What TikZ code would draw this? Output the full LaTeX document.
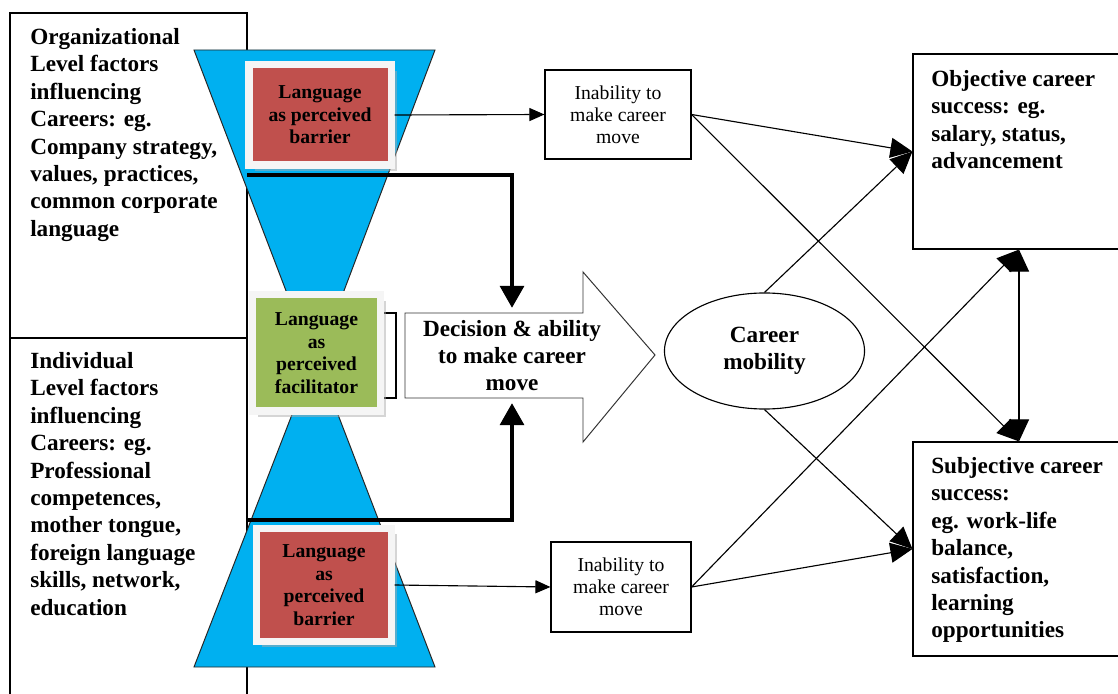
\documentclass[tikz,border=0pt]{standalone}
\usepackage{fontspec}
\setmainfont{Liberation Serif}
\usetikzlibrary{arrows.meta}
\usetikzlibrary{shapes,positioning}
\usetikzlibrary{shadows}
\colorlet{background}{white}
\definecolor{funnelColor}{RGB}{0,176,240}
\definecolor{barrierColor}{RGB}{192,80,77}
\definecolor{facilColor}{RGB}{155,187,89}
\colorlet{frameColor}{gray!8}
\tikzset{>={Triangle[length=5.5mm,width=5mm]}}
\tikzset{
  bigfont/.style={font=\bfseries\fontsize{16.5}{19.5}\selectfont},
  langfont/.style={font=\bfseries\fontsize{14}{16}\selectfont},
  movefont/.style={font=\fontsize{14}{15.5}\selectfont},
  funnel/.style={fill=funnelColor, draw=black!85, line width=0.7pt},
  langbox/.style={draw=frameColor, line width=5pt, align=center, langfont, inner sep=0pt,
    drop shadow={shadow xshift=4pt, shadow yshift=-4pt, fill=gray!65}},
  movebox/.style={draw, line width=0.8pt, align=center, movefont, inner sep=0pt},
  outcome/.style={draw, line width=0.8pt, inner sep=0pt, minimum width=5.3cm},
  outtext/.style={bigfont, align=left, anchor=north west, inner sep=0pt},
  conn/.style={->, line width=0.8pt},
  smallconn/.style={-{Triangle[length=3.75mm,width=3.25mm]}, line width=0.8pt},
  thickconn/.style={-{Triangle[length=5.5mm,width=6mm]}, line width=2.5pt, shorten >=1.3mm},
}

\begin{document}
\begin{tikzpicture}[x=0.025cm, y=-0.025cm]
\useasboundingbox (0,0) rectangle (1118,694);
% left columns
\draw[line width=0.8pt] (10,700) -- (10,13) -- (247,13) -- (247,700);
\draw[line width=0.8pt] (10,338) -- (247,338);
\node[bigfont, align=left, anchor=north west, inner sep=0pt] (orgText) at (30,28)
  {Organizational\\Level factors\\influencing\\Careers: eg.\\Company strategy,\\values, practices,\\common corporate\\language};
\node[bigfont, align=left, anchor=north west, inner sep=0pt] (indText) at (30,352)
  {Individual\\Level factors\\influencing\\Careers: eg.\\Professional\\competences,\\mother tongue,\\foreign language\\skills, network,\\education};

% the two funnels
\draw[funnel] (194,50) -- (435,50) -- (342,296) -- (288,296) -- cycle;
\draw[funnel] (293,412) -- (337,412) -- (435,667) -- (194,667) -- cycle;

%% language boxes
\draw[line width=0.8pt] (360,313) rectangle (396,398);
\node[langbox, fill=barrierColor, minimum width=3.55cm, minimum height=2.5cm] (barrierTop) at (320,115) {Language\\as perceived\\barrier};
\node[langbox, fill=facilColor, minimum width=3.2cm, minimum height=2.9cm] (facil) at (316.5,353) {Language\\as\\perceived\\facilitator};
\node[langbox, fill=barrierColor, minimum width=3.36cm, minimum height=2.81cm] (barrierBot) at (324,585) {Language\\as\\perceived\\barrier};

% big arrow
\draw[line width=0.7pt, draw=black!80, fill=white] (405,313) -- (583,313) -- (583,272) -- (655,355)
  -- (583,442) -- (583,398) -- (405,398) -- cycle;
\node[bigfont, align=center, inner sep=0pt, outer sep=0pt, minimum height=2.125cm] (decision) at (512,355.5)
  {Decision \& ability\\to make career\\move};

\node[movebox, minimum width=3.65cm, minimum height=2.225cm] (inabTop) at (618,114.5) {Inability to\\make career\\move};
\node[movebox, minimum width=3.5cm, minimum height=2.25cm] (inabBot) at (621,587) {Inability to\\make career\\move};

\node[draw, ellipse, line width=0.8pt, inner sep=0pt, minimum width=5cm, minimum height=2.9cm, bigfont, align=center] (mobility) at (764.5,351) {Career\\mobility};

\node[outcome, minimum height=4.875cm] (objective) at (1019,151.5) {};
\node[outtext] (objText) at (931,70) {Objective career\\success: eg.\\salary, status,\\advancement};
\node[outcome, minimum height=5.35cm] (subjective) at (1019,549) {};
\node[outtext] (subjText) at (931,457) {Subjective career\\success:\\eg. work-life\\balance,\\satisfaction,\\learning\\opportunities};

% connectors
\coordinate (orgEdge) at (247,175);
\coordinate (indEdge) at (247,520);
\draw[thickconn] (orgEdge) -| (decision.north);
\draw[thickconn] (indEdge) -| (decision.south);
\draw[smallconn] (barrierTop.east) -- (inabTop.west);
\draw[smallconn] (barrierBot.east) -- (inabBot.west);

\draw[conn] (inabTop.east) -- (objective.west);
\draw[conn] (inabTop.east) -- (subjective.north);
\draw[conn] (mobility.north) -- (objective.west);
\draw[conn] (mobility.south) -- (subjective.west);
\draw[conn] (inabBot.east) -- (objective.south);
\draw[conn] (inabBot.east) -- (subjective.west);
\draw[conn, <->] (objective.south) -- (subjective.north);
\end{tikzpicture}
\end{document}
